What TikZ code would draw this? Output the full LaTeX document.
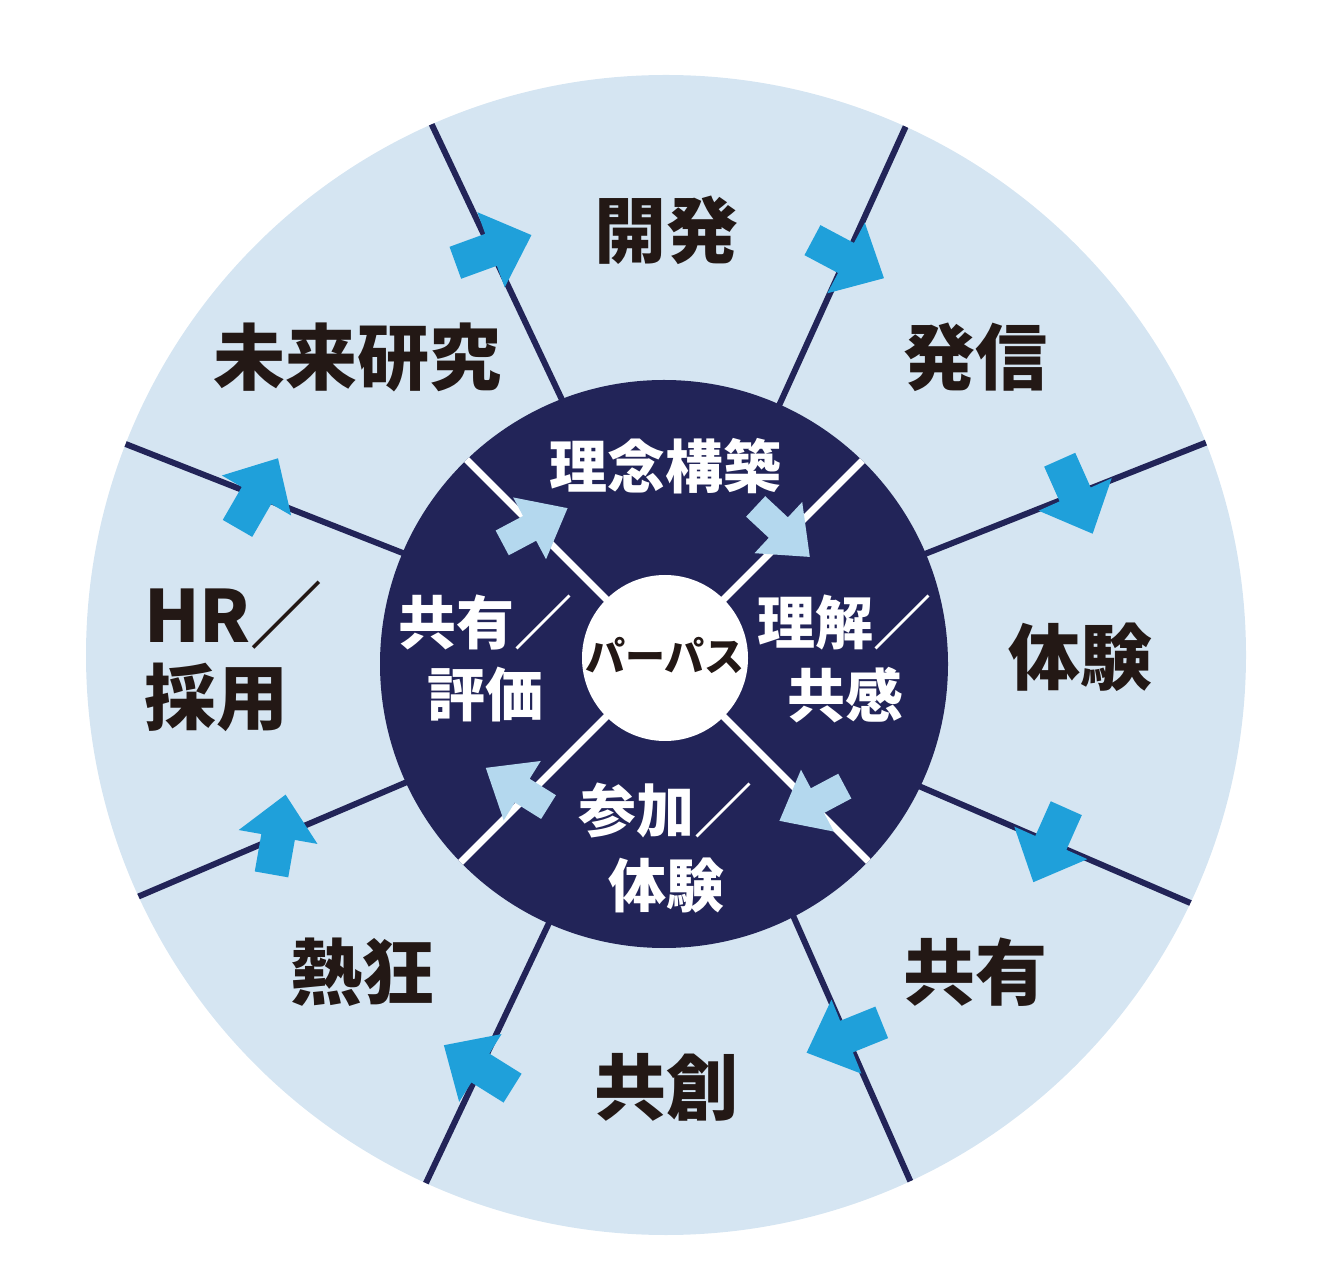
\documentclass[tikz,border=0pt]{standalone}
\usepackage{fontspec}
\usetikzlibrary{calc}
\newfontfamily\cjk{Noto Sans CJK JP}
\definecolor{ringblue}{RGB}{213,229,242}
\definecolor{navy}{RGB}{34,36,88}
\definecolor{arrowblue}{RGB}{31,160,218}
\definecolor{paleblue}{RGB}{180,216,238}
\definecolor{ink}{RGB}{35,24,21}
\begin{document}
\begin{tikzpicture}[x=1pt,y=1pt,
  outerlabel/.style={font=\cjk\bfseries\fontsize{72}{84}\selectfont, text=ink, inner sep=0pt},
  innerlabel/.style={font=\cjk\bfseries\fontsize{58}{70}\selectfont, text=white, inner sep=0pt},
  centerlabel/.style={font=\cjk\bfseries\fontsize{40}{48}\selectfont, text=ink, inner sep=0pt},
  spoke/.style={draw=navy, line width=6pt},
  innerspoke/.style={draw=white, line width=7pt},
  bigarrow/.pic={\fill[arrowblue] (-38,-17) -- (0,-17) -- (0,-40) -- (43,0) -- (0,40) -- (0,17) -- (-38,17) -- cycle;},
  smallarrow/.pic={\fill[paleblue] (-36,-14) -- (-5,-14) -- (-5,-35) -- (38,0) -- (-5,35) -- (-5,14) -- (-36,14) -- cycle;}
]
\useasboundingbox (0,0) rectangle (1330,1286);
\coordinate (O) at (666,631);
\coordinate (I) at (664,622);
\coordinate (P) at (665,628);
% spoke end points (inner, outer)
\coordinate (s1i) at (555,901);  \coordinate (s1o) at (432,1161);
\coordinate (s2i) at (787,898);  \coordinate (s2o) at (905,1158);
\coordinate (s3i) at (940,738);  \coordinate (s3o) at (1205,843);
\coordinate (s4i) at (928,496);  \coordinate (s4o) at (1195,381);
\coordinate (s5i) at (795,366);  \coordinate (s5o) at (912,101);
\coordinate (s6i) at (548,361);  \coordinate (s6o) at (425,101);
\coordinate (s7i) at (400,501);  \coordinate (s7o) at (135,388);
\coordinate (s8i) at (390,738);  \coordinate (s8o) at (123,843);
% outer ring
\fill[ringblue] (O) circle (580);
\begin{scope}
  \clip (O) circle (580);
  \foreach \k in {1,...,8}
    \draw[spoke] ($(s\k i)!-0.4!(s\k o)$) -- ($(s\k i)!1.2!(s\k o)$);
\end{scope}
% outer arrows: spoke, position along spoke, direction
\foreach \k/\t/\d in {1/0.52/20, 2/0.50/-28, 3/0.51/-66, 4/0.46/-114,
                      5/0.44/-158, 6/0.55/148, 7/0.46/80, 8/0.50/60}
  \path ($(s\k i)!\t!(s\k o)$) pic[rotate=\d] {bigarrow};
% inner dark disc
\fill[navy] (I) circle (284);
\begin{scope}
  \clip (I) circle (284);
  \foreach \a in {45,135,225,315}
    \draw[innerspoke] (P) -- ++(\a:320);
\end{scope}
\path (534,760) pic[rotate=28] {smallarrow};
\path (782,755) pic[rotate=-43] {smallarrow};
\path (813,483) pic[rotate=208] {smallarrow};
\path (518,498) pic[rotate=148] {smallarrow};
% centre
\fill[white] (P) circle (83);
\node[centerlabel] (purpose) at (665,631) {パーパス};
% inner labels
\node[innerlabel] (rinen) at (665,820) {理念構築};
\node[innerlabel] (rikaiA) at (844,664) {理解／};
\node[innerlabel] (rikaiB) at (845,591) {共感};
\node[innerlabel] (sankaA) at (665,476) {参加／};
\node[innerlabel] (sankaB) at (666,400) {体験};
\node[innerlabel] (kyouyuA) at (485,664) {共有／};
\node[innerlabel] (kyouyuB) at (485,591) {評価};
% outer labels
\node[outerlabel] (kaihatsu) at (666,1056) {開発};
\node[outerlabel] (hasshin) at (975,929) {発信};
\node[outerlabel] (taiken) at (1080,629) {体験};
\node[outerlabel] (kyouyu) at (975,314) {共有};
\node[outerlabel] (kyousou) at (666,199) {共創};
\node[outerlabel] (nekkyou) at (362,314) {熱狂};
\node[outerlabel] (mirai) at (357,929) {未来研究};
\node[outerlabel, anchor=base west] (hrA) at (144,643) {HR／};
\node[outerlabel, anchor=base west] (hrB) at (144,561) {採用};
\end{tikzpicture}
\end{document}
